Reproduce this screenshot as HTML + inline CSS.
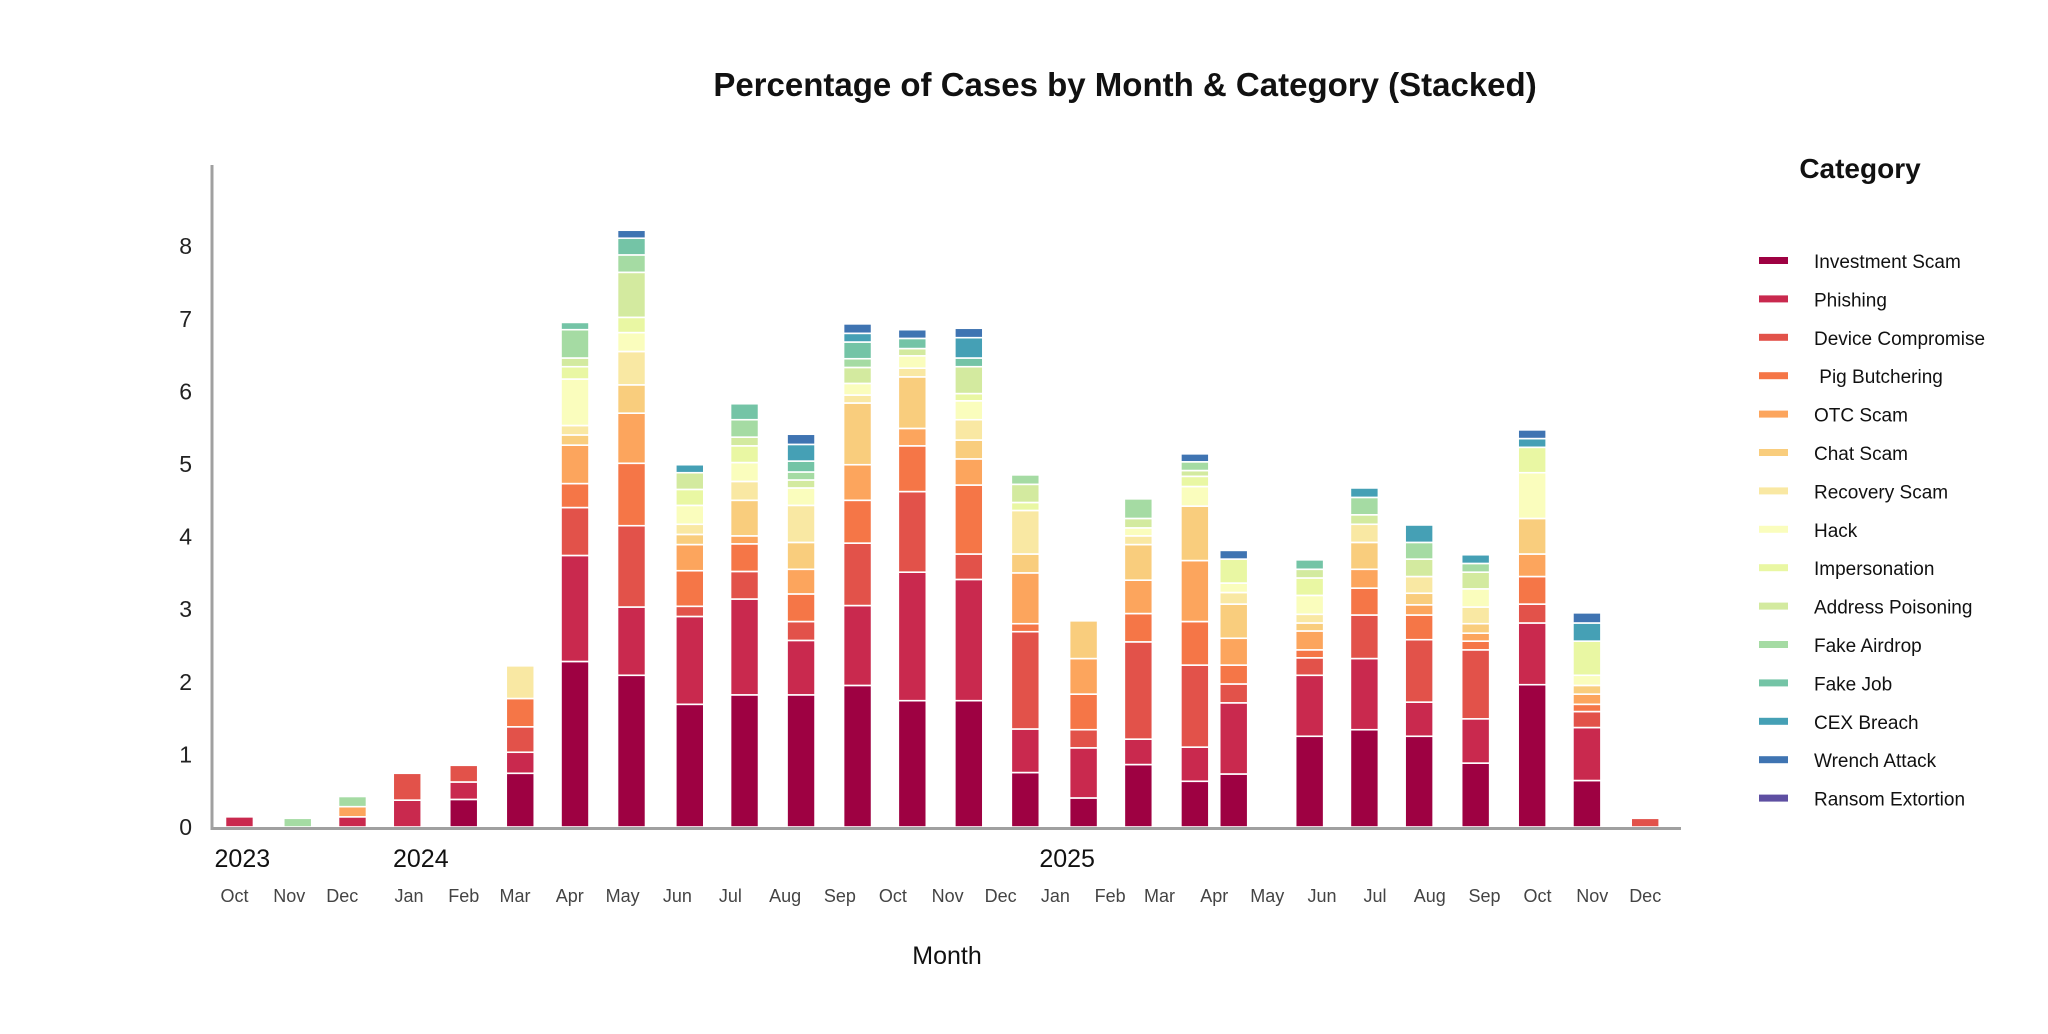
<!DOCTYPE html>
<html><head><meta charset="utf-8"><style>
html,body{margin:0;padding:0;background:#fff;}
svg{display:block;font-family:"Liberation Sans",sans-serif;}
</style></head><body>
<svg id="chart" width="2048" height="1034" viewBox="0 0 2048 1034" xmlns="http://www.w3.org/2000/svg">
<text x="1125" y="96" text-anchor="middle" font-size="33" font-weight="bold" fill="#111">Percentage of Cases by Month &amp; Category (Stacked)</text>
<text x="947" y="964" text-anchor="middle" font-size="25" fill="#111">Month</text>
<text x="1860" y="178" text-anchor="middle" font-size="28" font-weight="bold" fill="#111">Category</text>
<g id="bars"></g>
<g id="axes"></g>
<g id="legend"></g>
</svg>
<script>
const categories = ["Investment Scam","Phishing","Device Compromise"," Pig Butchering","OTC Scam","Chat Scam","Recovery Scam","Hack","Impersonation","Address Poisoning","Fake Airdrop","Fake Job","CEX Breach","Wrench Attack","Ransom Extortion"];
const barDates = ["2023-09-27","2023-10-30","2023-11-30","2023-12-31","2024-02-01","2024-03-04","2024-04-04","2024-05-06","2024-06-08","2024-07-09","2024-08-10","2024-09-11","2024-10-12","2024-11-13","2024-12-15","2025-01-17","2025-02-17","2025-03-21","2025-04-12","2025-05-12","2025-05-25","2025-06-25","2025-07-26","2025-08-27","2025-09-28","2025-10-29","2025-12-01"];
const investment = [0,0,0,0,.38,.74,2.28,2.09,1.69,1.82,1.82,1.95,1.74,1.74,.75,.40,.86,.63,.73,0,1.25,1.34,1.25,.88,1.96,.64,0];
const phishing = [.14,0,.14,.37,.24,.29,1.46,.94,1.21,1.32,.75,1.10,1.77,1.67,.60,.69,.35,.47,.98,0,.84,.98,.47,.61,.85,.73,0];
const device = [0,0,0,.37,.23,.35,.66,1.12,.14,.38,.26,.86,1.11,.35,1.34,.25,1.34,1.13,.26,0,.24,.60,.86,.95,.26,.22,.12];
const pig = [0,0,0,0,0,.39,.33,.86,.49,.38,.38,.59,.63,.95,.11,.49,.39,.60,.26,0,.11,.37,.34,.12,.38,.10,0];
const otc = [0,0,.14,0,0,0,.53,.69,.36,.11,.34,.49,.24,.36,.70,.49,.46,.84,.37,0,.26,.26,.14,.11,.31,.14,0];
const chat = [0,0,0,0,0,0,.14,.39,.14,.49,.37,.85,.71,.26,.26,.52,.49,.75,.47,0,.11,.37,.16,.13,.49,.12,0];
const recovery = [0,0,0,0,0,.45,.13,.46,.14,.26,.51,.11,.12,.28,.60,0,.12,0,.16,0,.12,.25,.23,.23,0,0,0];
const hack = [0,0,0,0,0,0,.64,.26,.26,.26,.24,.16,.17,.26,0,0,.11,.27,.13,0,.26,0,0,.25,.63,.14,0];
const impersonation = [0,0,0,0,0,0,.17,.21,.22,.23,0,0,0,.10,.11,0,0,.14,.33,0,.24,0,0,0,.35,.47,0];
const addressPoisoning = [0,0,0,0,0,0,.12,.62,.23,.12,.11,.22,.10,.37,.25,0,.13,.08,0,0,.12,.13,.24,.23,0,0,0];
const fakeAirdrop = [0,.12,.14,0,0,0,.39,.24,0,.24,.11,.12,0,0,.13,0,.27,.12,0,0,0,.24,.23,.12,0,0,0];
const fakeJob = [0,0,0,0,0,0,.10,.23,0,.22,.15,.23,.14,.12,0,0,0,0,0,0,.13,0,0,0,0,0,0];
const cexBreach = [0,0,0,0,0,0,0,0,.11,0,.23,.12,0,.28,0,0,0,0,0,0,0,.13,.24,.12,.12,.25,0];
const wrench = [0,0,0,0,0,0,0,.11,0,0,.14,.13,.12,.13,0,0,0,.11,.12,0,0,0,0,0,.12,.14,0];
const ransom = [0,0,0,0,0,0,0,0,0,0,0,0,0,0,0,0,0,0,0,0,0,0,0,0,0,0,0];
const yTicks = [0,1,2,3,4,5,6,7,8];
const monthTicks = ["2023-10-01","2023-11-01","2023-12-01","2024-01-01","2024-02-01","2024-03-01","2024-04-01","2024-05-01","2024-06-01","2024-07-01","2024-08-01","2024-09-01","2024-10-01","2024-11-01","2024-12-01","2025-01-01","2025-02-01","2025-03-01","2025-04-01","2025-05-01","2025-06-01","2025-07-01","2025-08-01","2025-09-01","2025-10-01","2025-11-01","2025-12-01"];
const monthLabels = ["Oct","Nov","Dec","Jan","Feb","Mar","Apr","May","Jun","Jul","Aug","Sep","Oct","Nov","Dec","Jan","Feb","Mar","Apr","May","Jun","Jul","Aug","Sep","Oct","Nov","Dec"];
const yearLabels = ["2023","2024","2025"];
const yearTickIdx = [0,3,15];

const series = [investment,phishing,device,pig,otc,chat,recovery,hack,impersonation,addressPoisoning,fakeAirdrop,fakeJob,cexBreach,wrench,ransom];
const colors = ["#9e0142","#c9294e","#e2524a","#f57647","#fca55d","#f9cd7d","#f9e8a3","#fafdbd","#e9f7a3","#d3ea9f","#a5dba3","#74c4a6","#45a0b5","#3f74b2","#5e4fa2"];

const NS = "http://www.w3.org/2000/svg";
const X0 = 212, X1 = 1681, Y0 = 827, YTOP = 165, UNIT = 72.6, BW = 28;
const refT = Date.parse("2024-01-01"), PXDAY = 1.766, REFX = 409;
function xScale(d){ return REFX + (Date.parse(d) - refT) / 86400000 * PXDAY; }
function yScale(v){ return Y0 - v * UNIT; }
function mk(tag, attrs, parent){ const e = document.createElementNS(NS, tag); for (const k in attrs) e.setAttribute(k, attrs[k]); parent.appendChild(e); return e; }

const gb = document.getElementById("bars");
barDates.forEach((d, i) => {
  let acc = 0;
  const cx = xScale(d);
  series.forEach((s, k) => {
    const v = s[i];
    if (!v) return;
    const r = mk("rect", {x: cx - BW/2, y: yScale(acc + v), width: BW, height: v * UNIT, fill: colors[k], stroke: "#fff", "stroke-width": 1.6}, gb);
    
    
    acc += v;
  });
});

const ga = document.getElementById("axes");
const yl = mk("line", {x1: X0, y1: YTOP, x2: X0, y2: Y0 + 1.5, stroke: "#a0a0a0", "stroke-width": 3}, ga);


const xl = mk("line", {x1: X0 - 1.5, y1: Y0 + 1.5, x2: X1, y2: Y0 + 1.5, stroke: "#a0a0a0", "stroke-width": 3}, ga);


yTicks.forEach(t => {
  const tx = mk("text", {x: 192, y: yScale(t) + 8, "text-anchor": "end", "font-size": 23, fill: "#222"}, ga);
  tx.textContent = t;
  
  
});
monthTicks.forEach((m, i) => {
  const tx = mk("text", {x: xScale(m) - (i < 3 ? 12 : 0), y: 902, "text-anchor": "middle", "font-size": 18, fill: "#444"}, ga);
  tx.textContent = monthLabels[i];
  
  
});
yearLabels.forEach((y, i) => {
  const tx = mk("text", {x: xScale(monthTicks[yearTickIdx[i]]) - (i === 0 ? 32 : 16), y: 867, "text-anchor": "start", "font-size": 25, fill: "#111"}, ga);
  tx.textContent = y;
  
  
});

const gl = document.getElementById("legend");
categories.forEach((c, k) => {
  const yy = 261 + k * 38.4;
  const g = mk("g", {}, gl);
  
  
  mk("rect", {x: 1759, y: yy - 4, width: 29, height: 7, fill: colors[k]}, g);
  const tx = mk("text", {x: 1814, y: yy + 7, "font-size": 19, fill: "#111"}, g);
  tx.textContent = c;
  tx.style.whiteSpace = "pre";
});
</script>
</body></html>
